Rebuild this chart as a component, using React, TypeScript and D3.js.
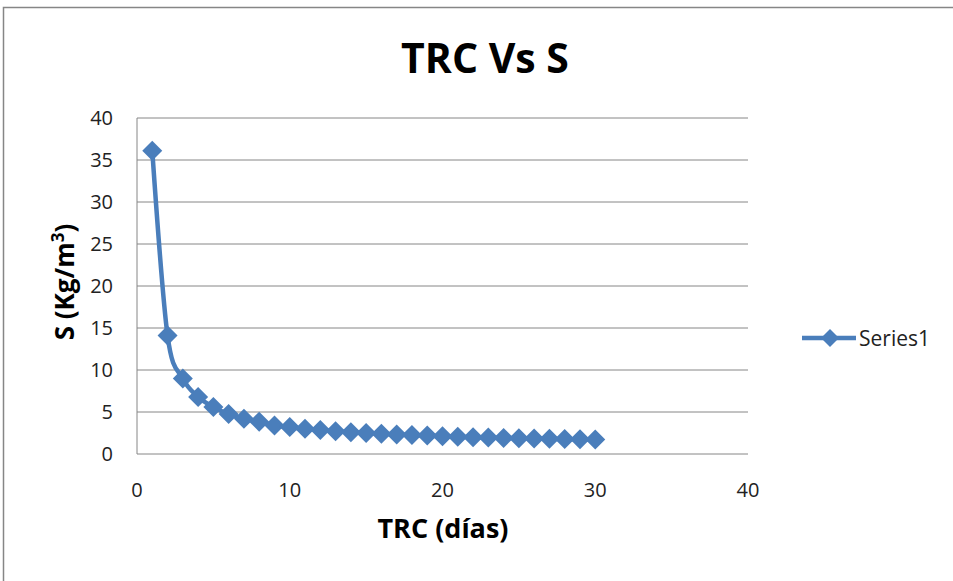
import React from 'react';
import * as d3 from 'd3';

// TRC (days) vs S (Kg/m3)
const trc = [
  1, 2, 3, 4, 5, 6, 7, 8, 9, 10,
  11, 12, 13, 14, 15, 16, 17, 18, 19, 20,
  21, 22, 23, 24, 25, 26, 27, 28, 29, 30
];
const sValues = [
  36.1, 14.1, 9.0, 6.8, 5.6, 4.75, 4.2, 3.85, 3.4, 3.2,
  3.0, 2.85, 2.72, 2.6, 2.5, 2.4, 2.32, 2.25, 2.2, 2.12,
  2.06, 2.0, 1.96, 1.91, 1.88, 1.84, 1.81, 1.78, 1.75, 1.72
];
const xTicks = [0, 10, 20, 30, 40];
const yTicks = [0, 5, 10, 15, 20, 25, 30, 35, 40];
const seriesName = 'Series1';

const font = '"Open Sans", sans-serif';
const blue = '#4a7ebb';
const gray = '#868686';

const margin = { top: 118, left: 137, right: 205, bottom: 127 };
const W = 953;
const H = 581;

export default function App() {
  const width = W - margin.left - margin.right;
  const height = H - margin.top - margin.bottom;

  const x = d3.scaleLinear().domain([0, 40]).range([margin.left, margin.left + width]);
  const y = d3.scaleLinear().domain([0, 40]).range([margin.top + height, margin.top]);

  const points = trc.map((t, i) => [t, sValues[i]] as [number, number]);

  const line = d3.line<[number, number]>()
    .x(d => x(d[0]))
    .y(d => y(d[1]))
    .curve(d3.curveCardinal.tension(0));

  const diamond = (cx: number, cy: number, r: number) =>
    `M${cx},${cy - r}L${cx + r},${cy}L${cx},${cy + r}L${cx - r},${cy}Z`;

  return (
    <svg width={W} height={H} style={{ position: 'absolute', left: 0, top: 0, background: '#fff' }}>
      {/* chart border */}
      <rect x={3.5} y={7.5} width={980} height={620} fill="#fff" stroke={gray} strokeWidth={1.5} />

      <text x={485} y={73} textAnchor="middle" fontFamily={font} fontWeight="bold" fontSize={41}>
        TRC Vs S
      </text>

      {/* gridlines */}
      {yTicks.map(t => (
        <line key={t} x1={x(0)} x2={x(40)} y1={y(t)} y2={y(t)} stroke={gray} strokeWidth={1} />
      ))}
      <line x1={x(0)} x2={x(0)} y1={y(0)} y2={y(40)} stroke={gray} strokeWidth={1} />

      {/* y tick labels */}
      {yTicks.map(t => (
        <text key={t} x={x(0) - 24} y={y(t)} dy="0.36em" textAnchor="end"
          fontFamily={font} fontSize={20} fill="#222">
          {t}
        </text>
      ))}

      {/* x tick labels */}
      {xTicks.map(t => (
        <text key={t} x={x(t)} y={y(0) + 43} textAnchor="middle"
          fontFamily={font} fontSize={20} fill="#222">
          {t}
        </text>
      ))}

      {/* axis titles */}
      <text x={443} y={538} textAnchor="middle" fontFamily={font} fontWeight="bold" fontSize={27}>
        TRC (días)
      </text>
      <text transform={`translate(74, 282) rotate(-90)`} textAnchor="middle"
        fontFamily={font} fontWeight="bold" fontSize={26}>
        S (Kg/m<tspan dy={-10} fontSize={17}>3</tspan><tspan dy={10}>)</tspan>
      </text>

      {/* series */}
      <path d={line(points) || ''} fill="none" stroke={blue} strokeWidth={4.5} strokeLinejoin="round" />
      {points.map((p, i) => (
        <path key={i} d={diamond(x(p[0]), y(p[1]), 10)} fill={blue} />
      ))}

      {/* legend */}
      <line x1={802} x2={856} y1={338} y2={338} stroke={blue} strokeWidth={4.5} />
      <path d={diamond(830, 338, 9)} fill={blue} />
      <text x={859} y={338} dy="0.36em" fontFamily={font} fontSize={21} fill="#222">
        {seriesName}
      </text>
    </svg>
  );
}
